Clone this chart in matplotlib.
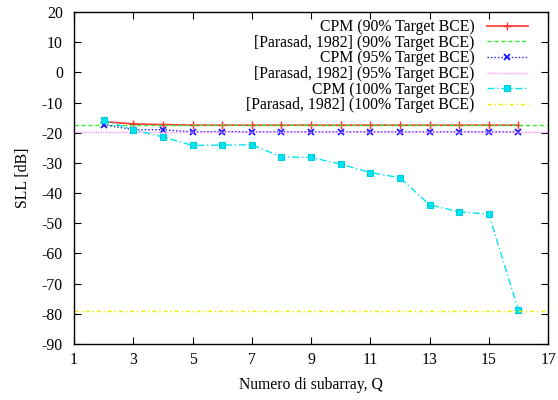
import numpy as np
import matplotlib.pyplot as plt

plt.rcParams['font.family'] = ['Liberation Serif', 'DejaVu Serif']
plt.rcParams['font.size'] = 11.3
plt.rcParams['axes.unicode_minus'] = False

q = [2, 3, 4, 5, 6, 7, 8, 9, 10, 11, 12, 13, 14, 15, 16]
cpm90 = [-16.3, -17.1, -17.3, -17.5, -17.5, -17.5, -17.5, -17.5, -17.5,
         -17.5, -17.5, -17.5, -17.5, -17.5, -17.5]
cpm95 = [-17.3, -19.0, -19.0, -19.7, -19.6, -19.7, -19.7, -19.7, -19.7,
         -19.7, -19.7, -19.7, -19.7, -19.7, -19.7]
cpm100 = [-15.8, -19.0, -21.4, -24.2, -24.1, -24.0, -28.0, -28.2, -30.4,
          -33.2, -34.9, -43.9, -46.2, -47.0, -78.9]
prasad90 = -17.6
prasad95 = -19.8
prasad100 = -79.0

xticks = [1, 3, 5, 7, 9, 11, 13, 15, 17]
yticks = list(range(-90, 30, 10))

fig = plt.figure(figsize=(5.58, 4.0), dpi=100)
ax = fig.add_axes([0.1326, 0.14, 0.8497, 0.83])

ax.plot(q, cpm90, color='#ff3030', lw=1.2, marker='+', ms=6, mew=1.0,
        label='CPM (90% Target BCE)')
ax.axhline(prasad90, color='#33ee33', lw=1.0, ls=(0, (3, 2)),
           label='[Parasad, 1982] (90% Target BCE)')
ax.plot(q, cpm95, color='#1a1aff', lw=1.0, ls=(0, (1, 1.5)), marker='x',
        ms=5, mew=1.3, label='CPM (95% Target BCE)')
ax.axhline(prasad95, color='#ff99ff', lw=1.0, ls=(0, (1, 0.7)),
           label='[Parasad, 1982] (95% Target BCE)')
ax.plot(q, cpm100, color='#00e5f0', lw=1.0, ls=(0, (5, 2, 1, 2)),
        marker='s', ms=4, mew=0.8, mec='#00ccdd',
        label='CPM (100% Target BCE)')
ax.axhline(prasad100, color='#eeee00', lw=1.0, ls=(0, (3, 2, 1, 2)),
           label='[Parasad, 1982] (100% Target BCE)')

ax.set_xlim(1, 17)
ax.set_ylim(-90, 20)
ax.set_xticks(xticks)
ax.set_yticks(yticks)
ax.tick_params(direction='in', top=True, right=True, length=5, width=0.8)
ax.tick_params(axis='x', pad=6)
ax.tick_params(axis='y', pad=8)
for s in ax.spines.values():
    s.set_linewidth(1.0)

ax.set_xlabel('Numero di subarray, Q', labelpad=6)
ax.set_ylabel('SLL [dB]', labelpad=8)

ax.legend(loc='upper right', frameon=False, markerfirst=False,
          handlelength=2.6, handletextpad=0.8, labelspacing=-0.02,
          borderaxespad=0.3, bbox_to_anchor=(0.98, 1.012), numpoints=1)

fig.savefig('out.png', dpi=100)
